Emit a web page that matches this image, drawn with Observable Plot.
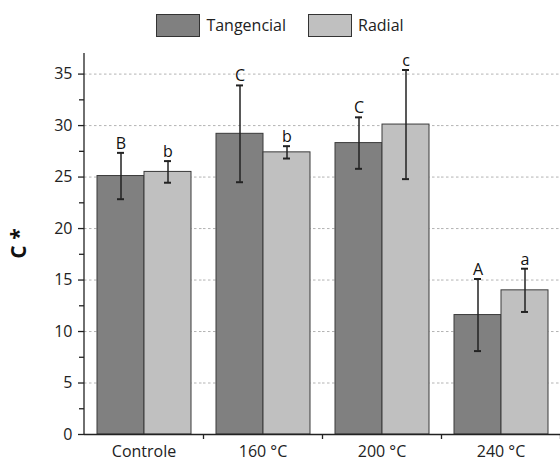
<!DOCTYPE html>
<html>
<head>
<meta charset="utf-8">
<script src="https://cdn.jsdelivr.net/npm/d3@7"></script>
<script src="https://cdn.jsdelivr.net/npm/@observablehq/plot@0.6"></script>
<style>
  html, body { margin: 0; padding: 0; background: #fff; }
  body { width: 560px; height: 461px; overflow: hidden; font-family: "Open Sans", sans-serif; color: #222; }
  #legend { height: 50px; box-sizing: border-box; padding-top: 13px; display: flex; justify-content: center; align-items: flex-start; font-size: 16px; }
  .item { display: flex; align-items: center; margin: 0 11px; }
  .sw { width: 44px; height: 23px; border: 1px solid #333; margin-right: 6px; box-sizing: border-box; }
  .lbl { line-height: 24px; }
  #chart svg { display: block; }
</style>
</head>
<body>
<div id="legend"></div>
<div id="chart"></div>
<script>
const categories = ["Controle", "160 °C", "200 °C", "240 °C"];
const series = ["Tangencial", "Radial"];
const seriesColors = ["#808080", "#c0c0c0"];
const tangencial = [25.1, 29.2, 28.3, 11.6];
const radial = [25.5, 27.4, 30.1, 14.0];
const tangencialErr = [2.25, 4.7, 2.5, 3.5];
const radialErr = [1.05, 0.6, 5.3, 2.1];
const tangencialLetters = ["B", "C", "C", "A"];
const radialLetters = ["b", "b", "c", "a"];
const yTicks = [0, 5, 10, 15, 20, 25, 30, 35];
const yMinorTicks = [2.5, 7.5, 12.5, 17.5, 22.5, 27.5, 32.5];
const yLabel = "C *";

const values = [tangencial, radial];
const errs = [tangencialErr, radialErr];
const letters = [tangencialLetters, radialLetters];
const data = [];
categories.forEach((c, i) => {
  series.forEach((s, j) => {
    data.push({cat: c, series: s, value: values[j][i], lo: values[j][i] - errs[j][i], hi: values[j][i] + errs[j][i], letter: letters[j][i]});
  });
});

// legend
const legend = d3.select("#legend");
series.forEach((s, j) => {
  const it = legend.append("div").attr("class", "item");
  it.append("div").attr("class", "sw").style("background", seriesColors[j]);
  it.append("span").attr("class", "lbl").text(s);
});

const W = 560, H = 411, mL = 84, mR = 0, mT = 3, mB = 27;
const step = (W - mL - mR) / categories.length;

const chart = Plot.plot({
  width: W, height: H,
  marginLeft: mL, marginRight: mR, marginTop: mT, marginBottom: mB,
  style: {fontFamily: "Open Sans, sans-serif", fontSize: "16px", color: "#222", background: "#fff"},
  fx: {domain: categories, padding: 0, label: null},
  x: {domain: series, paddingInner: 0, paddingOuter: 0.25, axis: null},
  y: {domain: [0, 37], label: null},
  color: {domain: series, range: seriesColors},
  marks: [
    Plot.ruleY(yTicks.filter(d => d > 0), {stroke: "#aaa", strokeWidth: 0.9, strokeDasharray: "2.5,2.5"}),
    Plot.barY(data, {fx: "cat", x: "series", y: "value", fill: "series", stroke: "#3a3a3a", strokeWidth: 1}),
    Plot.ruleX(data, {fx: "cat", x: "series", y1: "lo", y2: "hi", stroke: "#222", strokeWidth: 1.5}),
    Plot.tickY(data, {fx: "cat", x: "series", y: "hi", stroke: "#222", strokeWidth: 2, insetLeft: 20, insetRight: 20}),
    Plot.tickY(data, {fx: "cat", x: "series", y: "lo", stroke: "#222", strokeWidth: 2, insetLeft: 20, insetRight: 20}),
    Plot.text(data, {fx: "cat", x: "series", y: "hi", text: "letter", lineAnchor: "bottom", dy: -4, fontSize: 16, fill: "#111"}),
    Plot.ruleY([0], {stroke: "#222", strokeWidth: 1.3}),
    Plot.axisY({ticks: yTicks, tickSize: 6, tickPadding: 6, fontSize: 16, stroke: "#222", strokeWidth: 1.3, label: null}),
    Plot.axisY({ticks: yMinorTicks, tickSize: 5, tickFormat: () => "", stroke: "#222", strokeWidth: 1.3, label: null}),
    Plot.axisFx({anchor: "bottom", tickSize: 0, tickPadding: 11, fontSize: 16, label: null}),
    Plot.axisFx({anchor: "bottom", tickSize: 5, tickFormat: () => "", dx: step / 2, stroke: "#222", strokeWidth: 1.3, label: null})
  ]
});

const y = chart.scale("y");
const svg = d3.select(chart);
svg.append("line")
  .attr("x1", mL).attr("x2", mL)
  .attr("y1", y.apply(0)).attr("y2", y.apply(37))
  .attr("stroke", "#222").attr("stroke-width", 1.3);
svg.append("text")
  .attr("transform", `translate(18,${(y.apply(0) + y.apply(37)) / 2}) rotate(-90)`)
  .attr("text-anchor", "middle")
  .attr("dominant-baseline", "central")
  .attr("font-weight", "bold")
  .attr("font-size", 21)
  .attr("fill", "#111")
  .text(yLabel);

document.getElementById("chart").appendChild(chart);
</script>
</body>
</html>
